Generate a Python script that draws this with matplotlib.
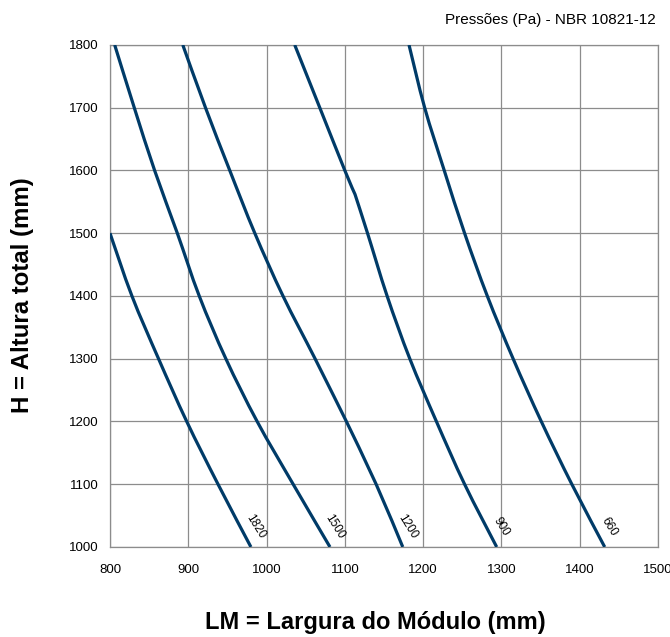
import matplotlib
matplotlib.use("Agg")
import matplotlib.pyplot as plt
from matplotlib import font_manager
from matplotlib.path import Path
from matplotlib.patches import PathPatch

# Condensed sans-serif if available
names = {f.name for f in font_manager.fontManager.ttflist}
family = "Liberation Sans Narrow" if "Liberation Sans Narrow" in names else "Liberation Sans"
plt.rcParams["font.family"] = [family, "DejaVu Sans"]

# Pressure curves: H (total height, mm) vs LM (module width, mm)
pressures = ["1820", "1500", "1200", "900", "660"]

h_1820 = [1500, 1400, 1300, 1200, 1100, 1000]
lm_1820 = [800, 828, 862, 898, 938, 980]

h_1500 = [1800, 1700, 1600, 1500, 1400, 1300, 1200, 1100, 1000]
lm_1500 = [806, 831, 857, 886, 914, 948, 988, 1034, 1081]

h_1200 = [1800, 1700, 1600, 1500, 1400, 1300, 1200, 1100, 1000]
lm_1200 = [893, 922, 953, 985, 1021, 1062, 1102, 1140, 1174]

h_900 = [1800, 1700, 1600, 1562, 1500, 1400, 1300, 1200, 1100, 1000]
lm_900 = [1036, 1068, 1100, 1113, 1129, 1154, 1183, 1217, 1253, 1294]

h_660 = [1800, 1700, 1600, 1500, 1400, 1300, 1200, 1100, 1000]
lm_660 = [1182, 1202, 1227, 1253, 1282, 1315, 1351, 1390, 1432]

# indices where a curve changes regime (drawn as a corner, not smoothed through)
breaks = {"1820": [], "1500": [], "1200": [6], "900": [3], "660": []}

series = [(lm_1820, h_1820), (lm_1500, h_1500), (lm_1200, h_1200),
          (lm_900, h_900), (lm_660, h_660)]

x_ticks = [800, 900, 1000, 1100, 1200, 1300, 1400, 1500]
y_ticks = [1000, 1100, 1200, 1300, 1400, 1500, 1600, 1700, 1800]

line_color = "#003B68"
grid_color = "#8c8c8c"


def smooth_path(xs, ys, corner_idx):
    """Catmull-Rom style cubic Bezier path through the points, with sharp corners."""
    pts = list(zip(xs, ys))
    verts = [pts[0]]
    codes = [Path.MOVETO]
    n = len(pts)
    for i in range(n - 1):
        p1, p2 = pts[i], pts[i + 1]
        p0 = pts[i - 1] if (i > 0 and i not in corner_idx) else p1
        p3 = pts[i + 2] if (i + 2 < n and (i + 1) not in corner_idx) else p2
        c1 = (p1[0] + (p2[0] - p0[0]) / 6, p1[1] + (p2[1] - p0[1]) / 6)
        c2 = (p2[0] - (p3[0] - p1[0]) / 6, p2[1] - (p3[1] - p1[1]) / 6)
        verts += [c1, c2, p2]
        codes += [Path.CURVE4] * 3
    return Path(verts, codes)


fig = plt.figure(figsize=(6.7, 6.37), dpi=100)
ax = fig.add_axes([0.1642, 0.1413, 0.8178, 0.7881])

for (lm, h), label in zip(series, pressures):
    path = smooth_path(lm, h, breaks[label])
    ax.add_patch(PathPatch(path, facecolor="none", edgecolor=line_color,
                           lw=2.3, capstyle="butt", zorder=3))
    ax.text(lm[-1] + 6, 1032, label, rotation=-58, ha="center", va="center",
            fontsize=8.5, color="black", zorder=4)

ax.set_xlim(800, 1500)
ax.set_ylim(1000, 1800)
ax.set_xticks(x_ticks)
ax.set_yticks(y_ticks)
ax.tick_params(length=0, labelsize=9.5, pad=8)
ax.tick_params(axis="x", pad=12)
ax.grid(True, color=grid_color, lw=0.9)
ax.set_axisbelow(True)
for s in ax.spines.values():
    s.set_color(grid_color)
    s.set_linewidth(0.9)

fig.text(0.5597, 0.0235, "LM = Largura do Módulo (mm)", ha="center", va="center",
         fontsize=17, fontweight="bold")
fig.text(0.033, 0.537, "H = Altura total (mm)", ha="center", va="center",
         rotation=90, fontsize=17.3, fontweight="bold")
fig.text(0.978, 0.968, "Pressões (Pa) - NBR 10821-12", ha="right", va="center",
         fontsize=11)

fig.savefig("out.png", dpi=100)
